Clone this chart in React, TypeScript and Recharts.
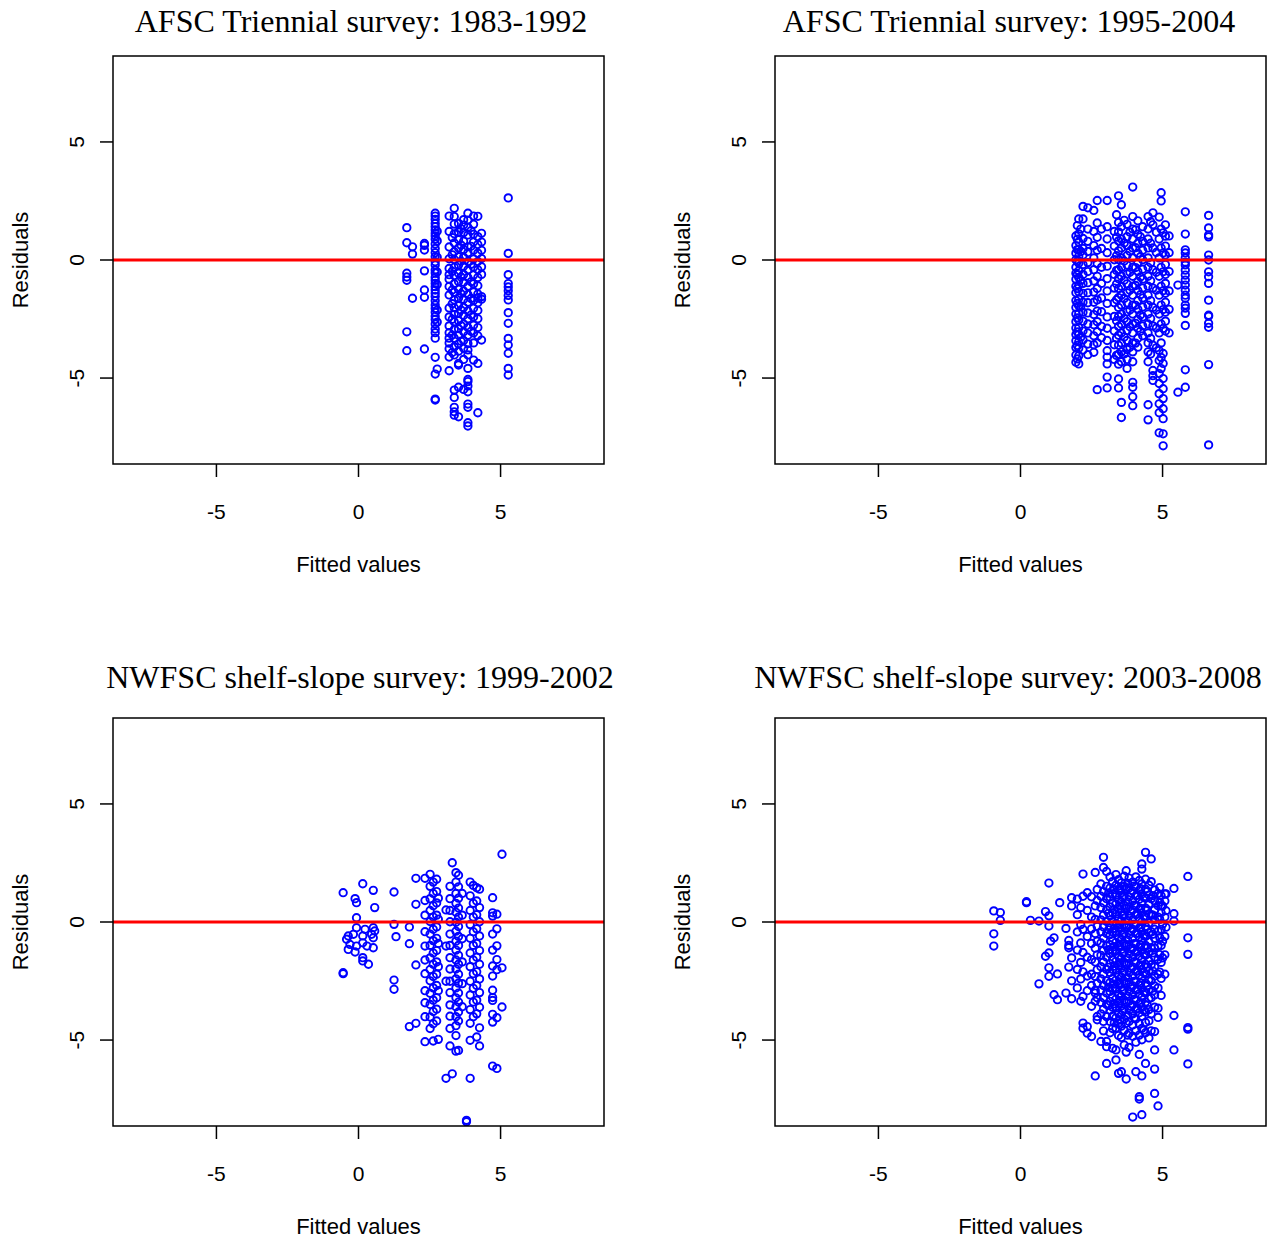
import { ScatterChart, Scatter, XAxis, YAxis, ReferenceLine, ReferenceArea } from 'recharts';

// each entry: [fitted value, residuals observed at that fitted value]
type Column = [number, number[]];

const triennialEarly: Column[] = [
  [1.70, [1.37, 0.73, -0.56, -0.72, -0.86, -3.04, -3.84]],
  [1.90, [0.56, 0.25, -1.62]],
  [2.32, [0.70, 0.62, 0.42, -0.46, -1.27, -1.58, -3.77]],
  [2.70, [1.98, 1.86, 1.72, 1.55, 1.41, 1.27, 1.13, 1.02, 0.88, 0.68, 0.49, 0.31, 0.14, -0.07, -0.21, -0.42, -0.55, -0.73, -0.86, -0.99, -1.13, -1.27, -1.41, -1.55, -1.73, -1.91, -2.05, -2.21, -2.38, -2.52, -2.71, -2.92, -3.08, -3.31, -4.12, -4.83, -5.89, -5.93]],
  [2.77, [1.22, 0.81, 0.12, -0.51, -1.04, -2.12, -2.63, -4.62]],
  [3.19, [1.86, 1.21, 0.55, 0.05, -0.36, -0.62, -0.81, -1.12, -1.48, -2.03, -2.41, -2.79, -3.08, -3.31, -3.52, -3.76, -4.11, -4.69]],
  [3.30, [0.95, 0.22, -0.48, -1.27, -1.85, -2.51, -3.18, -3.92]],
  [3.37, [2.19, 1.84, 1.52, 1.11, 0.72, 0.35, 0.02, -0.31, -0.66, -1.01, -1.37, -1.69, -2.02, -2.31, -2.62, -2.94, -3.31, -3.68, -4.02, -5.51, -5.82, -6.24, -6.43, -6.57]],
  [3.52, [1.55, 1.19, 0.86, 0.51, 0.14, -0.21, -0.56, -0.91, -1.24, -1.61, -1.94, -2.26, -2.57, -2.91, -3.19, -3.56, -3.86, -4.38, -4.45, -5.39, -6.64]],
  [3.61, [1.32, 0.63, -0.05, -0.72, -1.43, -2.12, -2.78, -3.44]],
  [3.70, [1.71, 1.48, 1.16, 0.79, 0.44, 0.11, -0.26, -0.61, -0.94, -1.31, -1.66, -2.01, -2.34, -2.71, -3.04, -3.41, -3.74, -4.21, -5.48]],
  [3.85, [1.98, 1.69, 1.39, 1.06, 0.56, 0.31, -0.06, -0.41, -0.74, -1.11, -1.46, -1.79, -2.16, -2.49, -2.86, -3.19, -3.54, -3.81, -4.02, -4.59, -5.06, -5.15, -5.34, -5.58, -6.10, -6.24, -6.89, -7.03]],
  [3.96, [1.24, 0.58, -0.18, -0.92, -1.63, -2.33, -3.02]],
  [4.05, [1.86, 1.51, 1.09, 0.76, 0.41, 0.04, -0.31, -0.64, -1.01, -1.36, -1.71, -2.04, -2.41, -2.76, -3.09, -3.51, -4.24]],
  [4.20, [1.85, 0.99, 0.66, 0.29, -0.06, -0.41, -0.74, -1.09, -1.44, -1.61, -1.81, -2.14, -2.49, -2.86, -3.21, -4.38, -6.47]],
  [4.33, [1.13, 0.76, 0.41, 0.06, -0.29, -0.61, -1.55, -1.66, -3.39]],
  [5.27, [2.63, 0.28, -0.62, -1.00, -1.14, -1.30, -1.50, -1.69, -2.23, -2.68, -3.32, -3.60, -3.95, -4.59, -4.87]],
];

const triennialLate: Column[] = [
  [1.95, [1.02, 0.61, 0.29, 0.01, -0.31, -0.56, -0.82, -1.11, -1.39, -1.72, -2.01, -2.29, -2.61, -2.88, -3.16, -3.42, -3.71, -4.02, -4.33]],
  [2.00, [1.46, 0.88, 0.44, -0.06, -0.62, -1.21, -1.84, -2.45, -3.04, -3.62, -4.19]],
  [2.05, [1.74, 1.11, 0.76, 0.44, 0.16, -0.14, -0.46, -0.74, -1.06, -1.34, -1.66, -1.94, -2.26, -2.54, -2.86, -3.14, -3.46, -3.74, -4.06, -4.40]],
  [2.12, [1.31, 0.36, -0.86, -1.98, -3.27]],
  [2.20, [2.27, 1.74, 0.91, 0.49, 0.21, -0.19, -0.61, -0.99, -1.41, -1.79, -2.21, -2.59, -3.01, -3.39, -3.81]],
  [2.37, [2.21, 1.31, 0.79, 0.36, -0.11, -0.49, -0.96, -1.39, -1.81, -2.24, -2.71, -3.09, -3.56, -4.01]],
  [2.58, [2.10, 1.21, 0.61, 0.09, -0.41, -0.89, -1.36, -1.79, -2.31, -2.74, -3.21, -3.59, -3.91]],
  [2.70, [2.52, 1.57, 0.96, 0.41, -0.16, -0.69, -1.21, -1.69, -2.16, -2.61, -3.04, -3.51, -5.49]],
  [2.85, [1.31, 0.49, -0.31, -0.99, -1.61, -2.19, -2.81, -3.29]],
  [3.05, [2.52, 1.41, 0.89, 0.31, -0.26, -0.79, -1.31, -1.84, -2.41, -2.89, -3.41, -3.84, -4.11, -4.40, -4.96, -5.42]],
  [3.30, [1.21, 0.59, 0.01, -0.61, -1.19, -1.81, -2.39, -3.01, -3.59, -4.21]],
  [3.38, [1.92, 0.97, 0.18, -0.44, -1.02, -1.68, -2.57, -3.31, -4.04]],
  [3.45, [2.72, 1.59, 1.19, 0.81, 0.39, 0.02, -0.41, -0.79, -1.21, -1.59, -2.01, -2.39, -2.81, -3.19, -3.61, -3.99, -4.41, -5.04, -5.42]],
  [3.55, [2.34, 1.41, 0.89, 0.51, 0.09, -0.31, -0.69, -1.11, -1.49, -1.91, -2.29, -2.71, -3.09, -3.51, -3.89, -4.31, -6.03, -6.67]],
  [3.65, [1.68, 0.72, -0.04, -0.86, -1.63, -2.48, -3.26, -3.98]],
  [3.75, [1.51, 0.99, 0.61, 0.19, -0.21, -0.59, -1.01, -1.39, -1.81, -2.19, -2.61, -2.99, -3.41, -3.79, -4.21, -4.59]],
  [3.85, [1.18, 0.37, -0.52, -1.28, -2.12, -2.83, -3.69]],
  [3.95, [3.09, 1.84, 1.31, 0.89, 0.51, 0.09, -0.31, -0.69, -1.11, -1.49, -1.91, -2.29, -2.71, -3.09, -3.51, -3.89, -4.31, -5.18, -5.39, -5.79, -6.17]],
  [4.05, [1.28, 0.52, -0.32, -1.08, -1.92, -2.68, -3.52]],
  [4.13, [1.66, 1.09, 0.71, 0.29, -0.11, -0.49, -0.91, -1.29, -1.71, -2.09, -2.51, -2.89, -3.31, -3.69]],
  [4.22, [0.98, 0.14, -0.72, -1.47, -2.33, -3.02]],
  [4.30, [1.41, 0.79, 0.41, 0.01, -0.39, -0.81, -1.19, -1.61, -1.99, -2.41, -2.79, -3.21]],
  [4.49, [1.84, 1.31, 0.89, 0.51, 0.09, -0.31, -0.69, -1.11, -1.49, -1.91, -2.29, -2.71, -3.09, -3.51, -3.89, -4.31, -6.13, -6.77]],
  [4.58, [1.62, 0.71, -0.12, -0.88, -1.72, -2.48, -3.32, -3.98]],
  [4.66, [2.00, 1.49, 0.51, -0.41, -1.19, -2.01, -2.79, -3.61, -4.68, -4.90, -5.10]],
  [4.78, [1.18, 0.32, -0.52, -1.28, -2.12, -2.88, -3.72]],
  [4.88, [1.82, 0.89, 0.09, -0.69, -1.49, -2.29, -3.09, -3.83, -4.26, -4.81, -5.23, -5.66, -6.09, -6.47, -7.32]],
  [4.95, [2.85, 2.50, 1.31, 0.51, -0.31, -1.11, -1.91, -2.71, -3.51, -4.13, -4.60]],
  [5.02, [1.15, 0.30, -0.50, -1.30, -2.10, -2.90, -3.96, -4.38, -5.02, -5.45, -5.87, -6.30, -6.72, -7.36, -7.87]],
  [5.10, [1.49, 1.01, 0.59, 0.21, -0.19, -0.61, -0.99, -1.41, -1.79, -2.21, -2.59, -3.01]],
  [5.23, [1.02, 0.31, -0.49, -1.31, -2.09, -3.09]],
  [5.54, [-1.06, -5.60]],
  [5.80, [2.04, 1.10, 0.43, 0.30, 0.09, -0.09, -0.21, -0.43, -0.64, -0.85, -1.06, -1.28, -1.49, -1.62, -1.91, -2.04, -2.26, -2.77, -4.65, -5.39]],
  [6.62, [1.89, 1.36, 1.06, 0.98, 0.21, 0.00, -0.50, -0.71, -0.99, -1.70, -2.34, -2.38, -2.68, -2.85, -4.43, -7.83]],
];

const shelfSlopeEarly: Column[] = [
  [-0.54, [1.24, -2.15, -2.19]],
  [-0.42, [-0.73]],
  [-0.36, [-0.59, -1.16]],
  [-0.30, [-0.95]],
  [-0.18, [-0.52]],
  [-0.12, [0.99, -1.27]],
  [-0.07, [0.82, 0.18, -0.24, -1.02]],
  [0.15, [1.62, -0.59, -0.88, -1.51, -1.65]],
  [0.23, [-0.31]],
  [0.30, [-1.02]],
  [0.35, [-1.79]],
  [0.46, [-0.52]],
  [0.52, [1.34, -0.24, -0.67, -1.09]],
  [0.57, [0.61, -0.38]],
  [1.25, [1.27, -0.10, -2.46, -2.85]],
  [1.32, [-0.62]],
  [1.79, [-0.21, -0.92, -4.43]],
  [2.02, [1.85, 0.75, -1.82, -4.29]],
  [2.34, [1.85, 0.91, 0.29, -0.41, -1.02, -1.61, -2.19, -2.91, -3.42, -4.01, -5.07]],
  [2.52, [2.02, 1.51, 0.99, 0.49, 0.02, -0.51, -0.99, -1.52, -2.01, -2.49, -3.02, -3.49, -4.02, -4.51]],
  [2.63, [1.69, 1.21, 0.69, 0.21, -0.31, -0.79, -1.31, -1.79, -2.31, -2.79, -3.31, -3.79, -4.31, -5.04]],
  [2.75, [1.81, 1.29, 0.81, 0.29, -0.21, -0.69, -1.21, -1.69, -2.21, -2.69, -3.21, -3.69, -4.19]],
  [2.81, [1.01, 0.12, -0.91, -1.89, -2.91, -4.97]],
  [3.08, [0.51, -1.02, -2.51, -6.62]],
  [3.22, [1.51, 0.99, 0.49, 0.01, -0.51, -0.99, -1.51, -1.99, -2.51, -2.99, -3.51, -3.99, -4.51, -5.25]],
  [3.30, [2.51, -6.43]],
  [3.43, [2.09, 1.69, 1.21, 0.79, 0.41, -0.01, -0.39, -0.81, -1.19, -1.61, -1.99, -2.41, -2.79, -3.21, -3.59, -4.01, -4.39, -4.81, -5.47]],
  [3.52, [1.98, 1.49, 1.01, 0.59, 0.21, -0.19, -0.61, -0.99, -1.41, -1.79, -2.21, -2.59, -3.01, -3.39, -3.81, -4.19, -5.44]],
  [3.65, [1.21, 0.29, -0.71, -1.69, -2.61, -3.59]],
  [3.80, [-8.40, -8.46]],
  [3.93, [1.69, 1.11, 0.49, -0.11, -0.69, -1.31, -1.89, -2.51, -3.09, -3.71, -4.29, -5.01, -6.62]],
  [4.04, [1.55, 0.79, 0.21, -0.41, -0.99, -1.61, -2.19, -2.81, -3.39, -4.01]],
  [4.16, [1.45, 0.89, 0.31, -0.29, -0.91, -1.49, -2.11, -2.69, -3.31, -3.89, -4.87]],
  [4.26, [1.39, 0.61, 0.01, -0.59, -1.21, -1.79, -2.41, -2.99, -3.61, -4.48, -5.25]],
  [4.72, [1.03, 0.39, 0.25, -0.51, -1.19, -1.86, -2.29, -2.89, -3.20, -3.32, -3.91, -4.24, -6.10]],
  [4.87, [0.33, -0.29, -1.01, -1.59, -2.02, -4.05, -6.20]],
  [5.05, [2.87, -1.94, -3.60]],
];

const shelfSlopeLate: Column[] = [
  [-0.94, [0.47, -0.50, -1.02]],
  [-0.71, [0.40, 0.07]],
  [0.21, [0.82, 0.86]],
  [0.35, [0.07]],
  [0.65, [0.04, -2.62]],
  [0.88, [0.44, -1.45]],
  [1.00, [1.65, 0.26, -0.17, -1.31, -1.94, -2.30]],
  [1.06, [-0.81]],
  [1.18, [-0.67, -3.08]],
  [1.30, [-2.20, -3.29]],
  [1.38, [0.82]],
  [1.60, [-0.27, -3.01]],
  [1.70, [-0.78, -0.99, -1.09, -1.91]],
  [1.80, [1.03, 0.68, -1.52, -2.49, -3.25]],
  [2.00, [0.97, 0.31, -0.42, -1.19, -2.01, -2.79]],
  [2.12, [0.61, -0.11, -0.89, -1.71, -2.41, -3.36]],
  [2.20, [2.03, 1.09, -0.31, -1.29, -2.11, -3.15, -4.28, -4.50]],
  [2.35, [1.24, 0.49, -0.61, -1.49, -2.29, -2.91, -4.43, -4.71]],
  [2.50, [1.07, 0.21, -0.29, -0.91, -1.59, -2.21, -2.69, -3.57, -4.85]],
  [2.63, [2.10, 0.68, 0.11, -0.49, -1.11, -1.69, -2.31, -2.89, -3.01, -3.36, -6.52]],
  [2.70, [1.38, 0.91, -0.19, -0.81, -1.39, -2.01, -2.59, -3.21, -4.00, -4.14]],
  [2.83, [1.61, 1.09, 0.61, 0.09, -0.41, -0.89, -1.41, -1.89, -2.41, -2.89, -3.41, -3.89, -5.06]],
  [2.92, [2.74, 2.31, 1.29, 0.81, 0.29, -0.21, -0.69, -1.21, -1.69, -2.21, -2.69, -3.21, -3.69, -4.21, -4.61]],
  [3.03, [2.14, 1.51, 0.99, 0.51, 0.02, -0.49, -1.01, -1.49, -2.01, -2.49, -3.01, -3.49, -4.01, -5.06, -5.28, -5.99]],
  [3.10, [1.22, 0.38, -0.33, -1.17, -1.92, -2.77, -3.53]],
  [3.15, [1.91, 1.44, 1.06, 0.64, 0.26, -0.16, -0.54, -0.96, -1.34, -1.76, -2.14, -2.56, -2.94, -3.36, -3.74, -4.21, -4.69]],
  [3.24, [1.71, 1.19, 0.81, 0.39, 0.01, -0.41, -0.79, -1.21, -1.59, -2.01, -2.39, -2.81, -3.19, -3.61, -3.99, -4.51, -5.35]],
  [3.30, [1.37, 0.53, -0.27, -1.04, -1.87, -2.63, -3.46, -4.27]],
  [3.36, [2.01, 1.56, 1.14, 0.76, 0.34, -0.06, -0.44, -0.86, -1.24, -1.66, -2.04, -2.46, -2.84, -3.26, -3.64, -4.06, -4.49, -5.42, -5.84]],
  [3.45, [1.79, 1.36, 0.94, 0.56, 0.14, -0.24, -0.66, -1.04, -1.46, -1.84, -2.26, -2.64, -3.06, -3.44, -3.86, -4.29, -4.81, -6.41]],
  [3.50, [1.43, 0.67, -0.13, -0.97, -1.73, -2.57, -3.33, -4.16]],
  [3.55, [1.66, 1.24, 0.86, 0.44, 0.06, -0.36, -0.74, -1.16, -1.54, -1.96, -2.34, -2.76, -3.14, -3.56, -3.94, -4.41, -4.89, -6.34]],
  [3.60, [1.04, 0.27, -0.56, -1.33, -2.17, -2.93, -3.77]],
  [3.65, [1.94, 1.51, 1.09, 0.71, 0.29, -0.11, -0.49, -0.91, -1.29, -1.71, -2.09, -2.51, -2.89, -3.31, -3.69, -4.11, -4.59, -5.21]],
  [3.72, [2.17, 1.41, 0.59, -0.21, -0.99, -1.81, -2.59, -3.41, -4.29, -5.51, -6.65]],
  [3.77, [1.63, 0.84, 0.06, -0.76, -1.53, -2.36, -3.14, -3.96, -4.79]],
  [3.82, [1.86, 1.44, 1.06, 0.64, 0.26, -0.16, -0.54, -0.96, -1.34, -1.76, -2.14, -2.56, -2.94, -3.36, -3.74, -4.21, -4.71, -5.31]],
  [3.88, [1.24, 0.46, -0.37, -1.13, -1.96, -2.74, -3.57]],
  [3.95, [1.69, 1.31, 0.89, 0.51, 0.09, -0.31, -0.69, -1.11, -1.49, -1.91, -2.29, -2.71, -3.09, -3.51, -3.89, -4.36, -4.84, -8.26]],
  [4.00, [1.52, 0.71, -0.09, -0.92, -1.68, -2.52, -3.28, -4.06]],
  [4.06, [1.91, 1.49, 1.11, 0.69, 0.31, -0.11, -0.49, -0.91, -1.29, -1.71, -2.09, -2.51, -2.89, -3.31, -3.69, -4.11, -4.61, -5.09, -6.34]],
  [4.12, [1.14, 0.36, -0.47, -1.23, -2.06, -2.84, -3.66]],
  [4.18, [1.76, 1.34, 0.96, 0.54, 0.16, -0.26, -0.64, -1.06, -1.44, -1.86, -2.24, -2.66, -3.04, -3.46, -3.84, -4.31, -4.79, -5.61, -7.40, -7.50]],
  [4.23, [1.41, 0.58, -0.22, -0.98, -1.82, -2.58, -3.42]],
  [4.27, [2.46, 2.24, 1.61, 1.19, 0.81, 0.39, 0.01, -0.41, -0.79, -1.21, -1.59, -2.01, -2.39, -2.81, -3.19, -3.61, -3.99, -4.51, -4.99, -6.52, -8.16]],
  [4.34, [1.06, 0.24, -0.56, -1.36, -2.14, -2.96, -3.74, -4.58]],
  [4.40, [2.95, 1.81, 1.39, 1.01, 0.59, 0.21, -0.19, -0.61, -0.99, -1.41, -1.79, -2.21, -2.59, -3.01, -3.39, -3.81, -4.26, -4.69, -5.99]],
  [4.46, [1.29, 0.51, -0.31, -1.09, -1.91, -2.69, -3.51]],
  [4.52, [1.56, 1.14, 0.76, 0.34, -0.04, -0.46, -0.84, -1.26, -1.64, -2.06, -2.44, -2.86, -3.24, -3.71, -4.19, -4.91]],
  [4.60, [2.67, 1.71, 0.99, 0.31, -0.41, -1.09, -1.81, -2.49, -3.21, -3.89, -4.61]],
  [4.66, [1.12, 0.29, -0.52, -1.31, -2.08, -2.92]],
  [4.72, [1.36, 0.89, 0.51, 0.09, -0.31, -0.69, -1.11, -1.49, -1.91, -2.29, -2.71, -3.09, -3.61, -4.64, -5.42, -6.23, -7.26]],
  [4.84, [1.21, 0.69, 0.21, -0.39, -1.01, -1.59, -2.21, -2.79, -3.65, -4.04, -7.79]],
  [4.90, [1.46, 0.84, 0.11, -0.66, -1.38, -2.12]],
  [4.95, [1.11, 0.68, 0.39, -0.31, -0.99, -1.71, -2.39, -3.11]],
  [5.00, [0.68, -0.09, -0.81, -1.52]],
  [5.08, [1.19, 0.89, 0.21, -0.61, -1.39, -2.21]],
  [5.12, [1.19, 0.48, -0.22]],
  [5.40, [1.42, 0.35, 0.04, -3.96, -5.42]],
  [5.89, [1.93, -0.67, -1.37, -4.47, -4.54, -6.01]],
];

const panelTitles = [
  'AFSC Triennial survey: 1983-1992',
  'AFSC Triennial survey: 1995-2004',
  'NWFSC shelf-slope survey: 1999-2002',
  'NWFSC shelf-slope survey: 2003-2008',
];
const panelData = [triennialEarly, triennialLate, shelfSlopeEarly, shelfSlopeLate];
const axisTicks = [-5, 0, 5];

const LIM = 8.64; // R's default 4% padding around c(-8, 8)
const SANS = '"Liberation Sans", Arial, Helvetica, sans-serif';
const SERIF = '"Liberation Serif", "Times New Roman", serif';

const toPoints = (cols: Column[]) => cols.flatMap(([x, ys]) => ys.map((y) => ({ x, y })));

const Ring = (props: any) => (
  <circle cx={props.cx} cy={props.cy} r={3.7} fill="none" stroke="#0000ff" strokeWidth={1.9} />
);

const XTick = ({ x, y, payload }: any) => (
  <text x={x} y={y + 42} textAnchor="middle" fontSize={21} fontFamily={SANS} fill="#000">
    {payload.value}
  </text>
);

const YTick = ({ x, y, payload }: any) => {
  const bx = x - 16;
  return (
    <text
      x={bx}
      y={y}
      transform={`rotate(-90 ${bx} ${y})`}
      textAnchor="middle"
      fontSize={21}
      fontFamily={SANS}
      fill="#000"
    >
      {payload.value}
    </text>
  );
};

interface PanelProps {
  title: string;
  cols: Column[];
  left: number;
  top: number;
  titleCenter: number;
  titleTop: number;
}

const Panel = ({ title, cols, left, top, titleCenter, titleTop }: PanelProps) => (
  <div style={{ position: 'absolute', left, top, width: 612, height: 580 }}>
    <div
      style={{
        position: 'absolute',
        left: titleCenter - 300,
        top: titleTop,
        width: 600,
        textAlign: 'center',
        fontFamily: SERIF,
        fontSize: 32,
        lineHeight: '32px',
        whiteSpace: 'nowrap',
      }}
    >
      {title}
    </div>
    <ScatterChart width={612} height={580} margin={{ top: 56, right: 8, bottom: 0, left: 0 }}>
      <XAxis
        type="number"
        dataKey="x"
        domain={[-LIM, LIM]}
        allowDataOverflow
        ticks={axisTicks}
        interval={0}
        height={116}
        axisLine={false}
        tickSize={13}
        tickMargin={0}
        tickLine={{ stroke: '#000', strokeWidth: 1.5 }}
        tick={XTick}
        label={() => (
          <text x={358.5} y={572} textAnchor="middle" fontSize={22} fontFamily={SANS} fill="#000">
            Fitted values
          </text>
        )}
      />
      <YAxis
        type="number"
        dataKey="y"
        domain={[-LIM, LIM]}
        allowDataOverflow
        ticks={axisTicks}
        interval={0}
        width={113}
        axisLine={false}
        tickSize={13}
        tickMargin={0}
        tickLine={{ stroke: '#000', strokeWidth: 1.5 }}
        tick={YTick}
        label={() => (
          <text
            x={28}
            y={260}
            transform="rotate(-90 28 260)"
            textAnchor="middle"
            fontSize={22}
            fontFamily={SANS}
            fill="#000"
          >
            Residuals
          </text>
        )}
      />
      <Scatter data={toPoints(cols)} shape={Ring} isAnimationActive={false} />
      <ReferenceLine y={0} stroke="#ff0000" strokeWidth={3} zIndex={1000} />
      <ReferenceArea
        x1={-LIM}
        x2={LIM}
        y1={-LIM}
        y2={LIM}
        fill="none"
        fillOpacity={0}
        stroke="#000"
        strokeWidth={1.5}
        ifOverflow="visible"
        zIndex={1000}
      />
    </ScatterChart>
  </div>
);

const titleCenters = [361, 347, 360, 346];
const titleTops = [5, 5, -1, -1];

export default function App() {
  return (
    <div
      style={{
        position: 'absolute',
        left: 0,
        top: 0,
        width: 1275,
        height: 1243,
        overflow: 'hidden',
        background: '#fff',
      }}
    >
      {panelTitles.map((t, i) => (
        <Panel
          key={t}
          title={t}
          cols={panelData[i]}
          left={(i % 2) * 662}
          top={Math.floor(i / 2) * 662}
          titleCenter={titleCenters[i]}
          titleTop={titleTops[i]}
        />
      ))}
    </div>
  );
}
